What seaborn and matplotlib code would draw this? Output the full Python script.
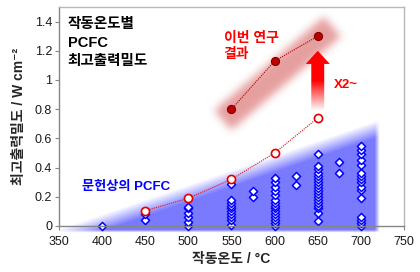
import numpy as np
import pandas as pd
import matplotlib
matplotlib.use("Agg")
import matplotlib.pyplot as plt
import seaborn as sns
from matplotlib.patches import Polygon

# ---------------- data ----------------
lit_400 = [0.0]
lit_450 = [0.04, 0.08]
lit_500 = [0.0, 0.03, 0.06, 0.09, 0.12, 0.13]
lit_550 = [0.01, 0.04, 0.06, 0.08, 0.10, 0.12, 0.14, 0.16, 0.18, 0.29]
lit_575 = [0.20, 0.24]
lit_600 = [0.0, 0.02, 0.04, 0.06, 0.08, 0.10, 0.12, 0.14, 0.16, 0.18, 0.21,
           0.24, 0.27, 0.30, 0.33]
lit_625 = [0.28, 0.345]
lit_650 = [0.035, 0.09, 0.12, 0.14, 0.16, 0.18, 0.20, 0.22, 0.24, 0.26, 0.28,
           0.30, 0.32, 0.34, 0.36, 0.39, 0.41, 0.49]
lit_675 = [0.36, 0.44]
lit_700 = [0.0, 0.02, 0.04, 0.06, 0.19, 0.25, 0.27, 0.30, 0.32, 0.34, 0.36,
           0.42, 0.45, 0.49, 0.52, 0.55]

lit_groups = {400: lit_400, 450: lit_450, 500: lit_500, 550: lit_550,
              575: lit_575, 600: lit_600, 625: lit_625, 650: lit_650,
              675: lit_675, 700: lit_700}

prev_temp = [450, 500, 550, 600, 650]
prev_pmax = [0.105, 0.19, 0.32, 0.50, 0.74]

this_temp = [550, 600, 650]
this_pmax = [0.80, 1.13, 1.30]

x_ticks = [350, 400, 450, 500, 550, 600, 650, 700, 750]
y_ticks = [0, 0.2, 0.4, 0.6, 0.8, 1.0, 1.2, 1.4]
y_tick_labels = ["0", "0.2", "0.4", "0.6", "0.8", "1", "1.2", "1.4"]

lit_df = pd.DataFrame({
    "temp": [t for t, v in lit_groups.items() for _ in v],
    "pmax": [p for v in lit_groups.values() for p in v],
})
prev_df = pd.DataFrame({"temp": prev_temp, "pmax": prev_pmax})
this_df = pd.DataFrame({"temp": this_temp, "pmax": this_pmax})

# ---------------- figure ----------------
sns.set_theme(style="white")
plt.rcParams["font.family"] = ["Liberation Sans", "Noto Sans CJK KR",
                               "DejaVu Sans"]

W, H = 420, 272
fig = plt.figure(figsize=(W / 100, H / 100), dpi=100)
L, R, B, T = 59, 404, 226, 7
ax = fig.add_axes([L / W, 1 - B / H, (R - L) / W, (B - T) / H])
ax.set_xlim(350, 750)
ax.set_ylim(0, 1.5)

pw, ph = R - L, B - T


def to_px(x, y):
    return ((x - 350) / 400 * pw, (1.5 - y) / 1.5 * ph)


def blur(a, s):
    r = int(3 * s)
    k = np.exp(-0.5 * (np.arange(-r, r + 1) / s) ** 2)
    k /= k.sum()
    a = np.pad(a, r, mode="edge")
    a = np.apply_along_axis(lambda m: np.convolve(m, k, mode="valid"), 0, a)
    a = np.apply_along_axis(lambda m: np.convolve(m, k, mode="valid"), 1, a)
    return a


# pixel grid of the axes area (with margin below axis)
extra = 10
gx, gy = np.meshgrid(np.arange(pw) + 0.5, np.arange(ph + extra) + 0.5)

# ---- blue literature region (soft-edged triangle) ----
x0, y0 = to_px(372, 0.0)
x1, y1 = to_px(719, 0.70)
xb, yb = to_px(719, -0.035)
nx, ny = (y1 - y0), -(x1 - x0)
nrm = np.hypot(nx, ny)
d_top = -((gx - x0) * nx + (gy - y0) * ny) / nrm
a_top = np.clip(d_top / 16 + 0.2, 0, 1)
a_right = np.clip((xb - gx) / 5 + 0.5, 0, 1)
a_bot = np.clip((yb - gy) / 3 + 0.5, 0, 1)
alpha_b = a_top * a_right * a_bot
img_b = np.zeros(alpha_b.shape + (4,))
img_b[..., 0] = 122 / 255
img_b[..., 1] = 122 / 255
img_b[..., 2] = 1.0
img_b[..., 3] = alpha_b
ext_bottom = -extra / ph * 1.5
ax.imshow(img_b, extent=(350, 750, ext_bottom, 1.5), origin="upper",
          aspect="auto", zorder=1, interpolation="bilinear", clip_on=False)

# ---- red highlight band along this-work trend ----
p0 = np.array(to_px(547, 0.76))
p1 = np.array(to_px(660, 1.33))
u = (p1 - p0) / np.hypot(*(p1 - p0))
v = np.array([-u[1], u[0]])
rel_x = gx - p0[0]
rel_y = gy - p0[1]
along = rel_x * u[0] + rel_y * u[1]
perp = rel_x * v[0] + rel_y * v[1]
blen = np.hypot(*(p1 - p0))
mask = ((along > -8) & (along < blen + 8) & (np.abs(perp) < 13)).astype(float)
mask = blur(mask, 4.0)
img_r = np.zeros(mask.shape + (4,))
img_r[..., 0] = 215 / 255
img_r[..., 1] = 100 / 255
img_r[..., 2] = 100 / 255
img_r[..., 3] = 0.62 * mask
ax.imshow(img_r, extent=(350, 750, ext_bottom, 1.5), origin="upper",
          aspect="auto", zorder=2, interpolation="bilinear")

# ---- literature scatter ----
sns.scatterplot(data=lit_df, x="temp", y="pmax", marker="D", s=17,
                facecolor="white", edgecolor="#0000ff", linewidth=1.1,
                ax=ax, zorder=4, clip_on=False)

# ---- previous (dotted) trend with open circles ----
sns.lineplot(data=prev_df, x="temp", y="pmax", color="#e01010",
             linestyle=(0, (1, 1)), linewidth=0.8, ax=ax, zorder=5)
sns.scatterplot(data=prev_df, x="temp", y="pmax", marker="o", s=34,
                facecolor="white", edgecolor="#e00000", linewidth=1.2,
                ax=ax, zorder=6)

# ---- this work ----
sns.lineplot(data=this_df, x="temp", y="pmax", color="#b00000",
             linestyle=(0, (1, 1)), linewidth=0.8, ax=ax, zorder=5)
sns.scatterplot(data=this_df, x="temp", y="pmax", marker="o", s=34,
                color="#c00000", edgecolor="#7a0000", linewidth=0.8,
                ax=ax, zorder=6)

# ---- gradient red arrow (x2) ----
ax_x, tip, hb, bot = 650, 1.20, 1.11, 0.79
hw, sw = 14, 7.5
arrow = Polygon([(ax_x - sw, bot), (ax_x - sw, hb), (ax_x - hw, hb),
                 (ax_x, tip), (ax_x + hw, hb), (ax_x + sw, hb),
                 (ax_x + sw, bot)], closed=True, facecolor="none",
                edgecolor="none", transform=ax.transData)
ax.add_patch(arrow)
grad = np.clip((np.linspace(tip, bot, 100) - bot) / (1.0 - bot), 0, 1)
grad = grad[:, None] * np.ones((1, 4))
aimg = np.zeros((100, 4, 4))
aimg[..., 0] = 1.0
aimg[..., 1] = 1 - grad
aimg[..., 2] = 1 - grad
aimg[..., 3] = 1.0
im = ax.imshow(aimg, extent=(ax_x - hw, ax_x + hw, bot, tip), origin="upper",
               aspect="auto", zorder=7, interpolation="bilinear")
im.set_clip_path(arrow)

# ---- texts ----
ax.text(360, 1.43, "작동온도별\nPCFC\n최고출력밀도", fontsize=10.5,
        fontweight="bold", color="black", va="top", ha="left",
        linespacing=1.4, zorder=8)
ax.text(541, 1.335, "이번 연구\n결과", fontsize=10, fontweight="bold",
        color="#ff0000", va="top", ha="left", linespacing=1.2, zorder=8)
ax.text(669, 0.965, "X2~", fontsize=9.5, fontweight="bold", color="#ff0000",
        va="center", ha="left", zorder=8)
ax.text(377, 0.27, "문헌상의 PCFC", fontsize=9.5, fontweight="bold",
        color="#0000ff", va="center", ha="left", zorder=8)

# ---- axes styling ----
ax.set_xticks(x_ticks)
ax.set_xticklabels([str(t) for t in x_ticks])
ax.set_yticks(y_ticks)
ax.set_yticklabels(y_tick_labels)
ax.tick_params(axis="both", which="major", labelsize=9, length=3,
               width=0.8, color="#868686", direction="out", pad=2,
               labelcolor="#1a1a1a")
ax.tick_params(axis="x", pad=4)
ax.xaxis.set_ticks_position("bottom")
ax.yaxis.set_ticks_position("left")
for side in ["left", "bottom"]:
    ax.spines[side].set_color("#868686")
    ax.spines[side].set_linewidth(1.0)
for side in ["top", "right"]:
    ax.spines[side].set_color("#b8b8b8")
    ax.spines[side].set_linewidth(1.0)
for sp in ax.spines.values():
    sp.set_zorder(9)

ax.set_xlabel("작동온도 / °C", fontsize=10, fontweight="bold", labelpad=3)
ax.set_ylabel("최고출력밀도 / W cm⁻²", fontsize=10, fontweight="bold",
              labelpad=6)

fig.savefig("out.png", dpi=100)
